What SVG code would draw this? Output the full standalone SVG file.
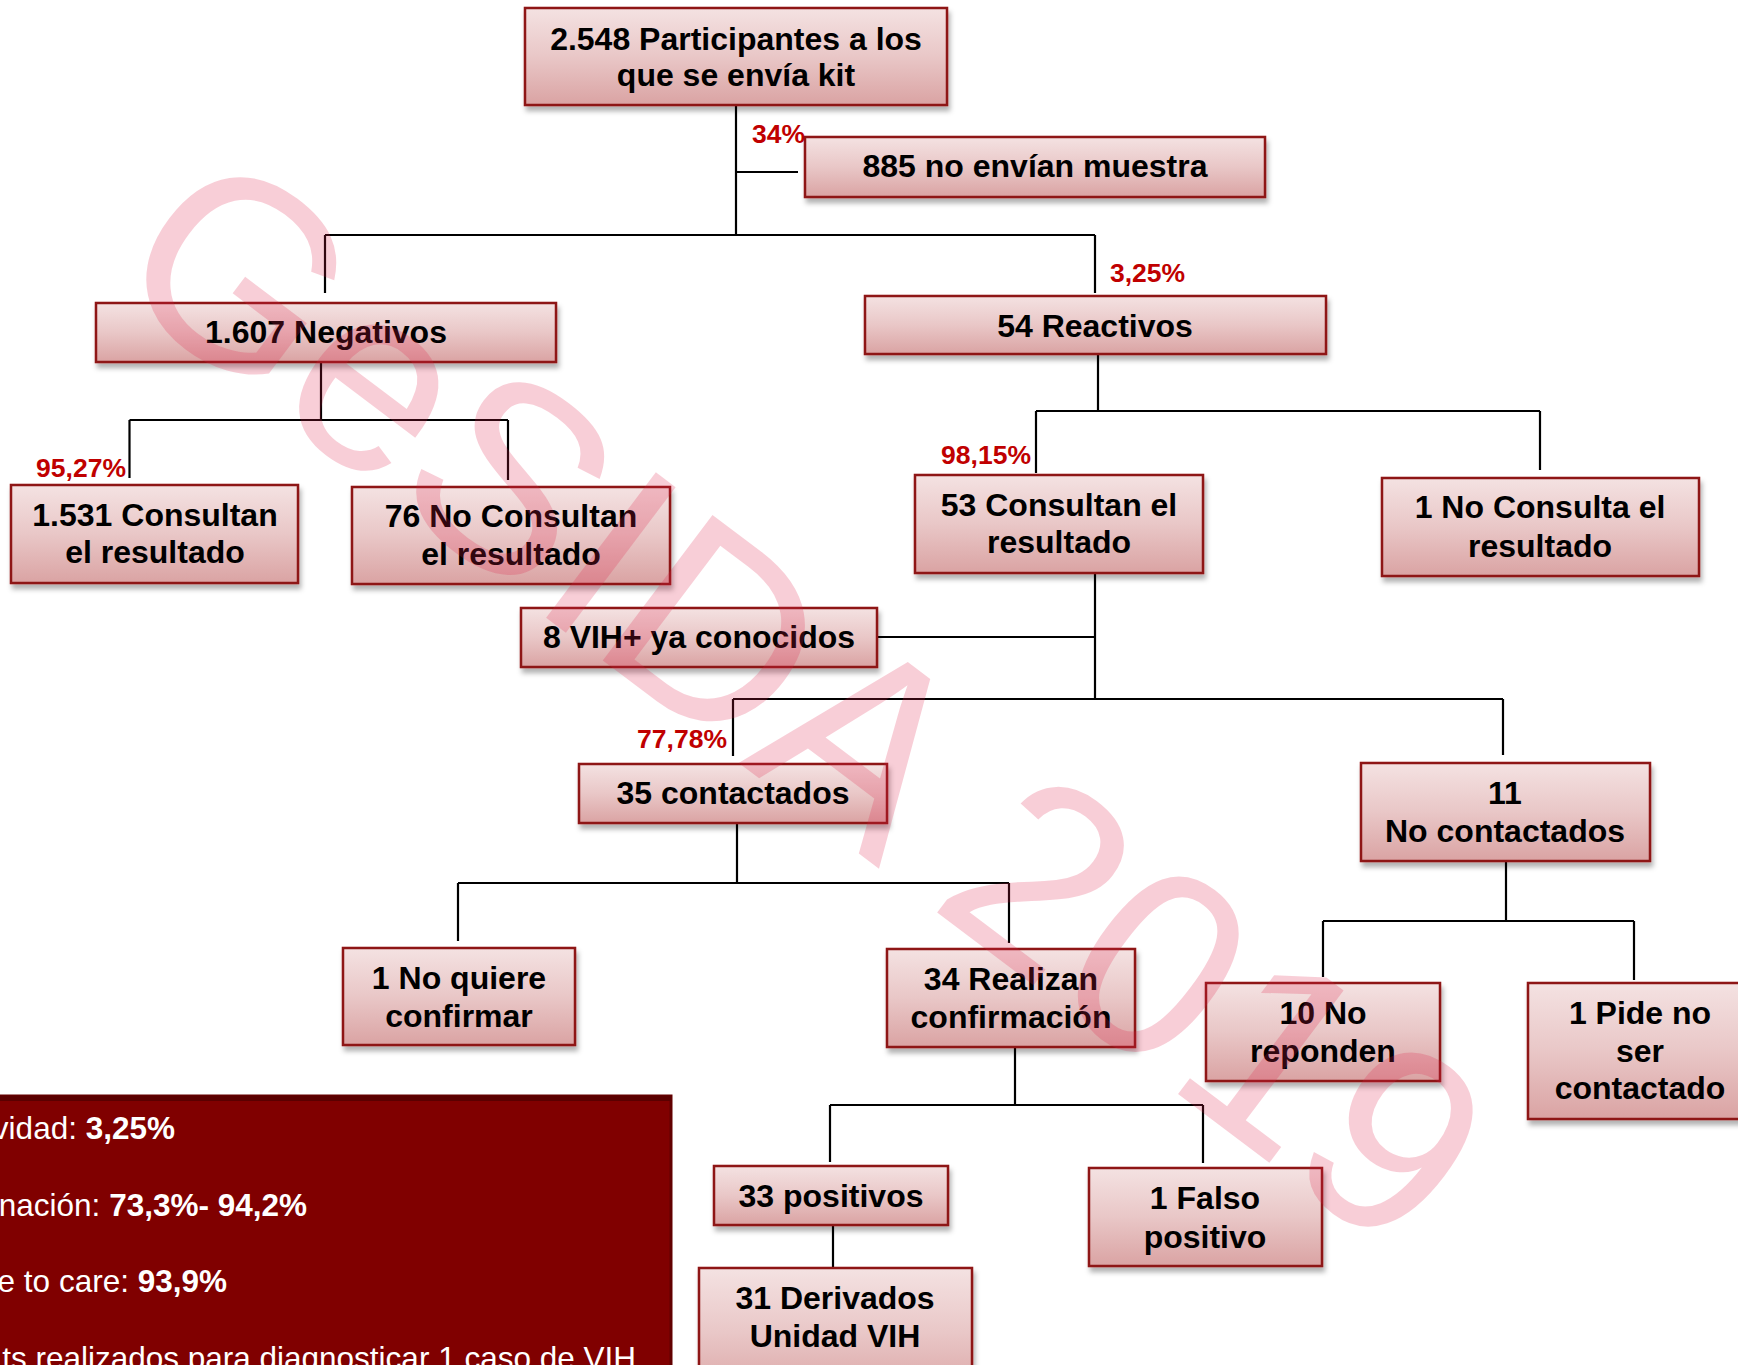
<svg xmlns="http://www.w3.org/2000/svg" width="1738" height="1365" viewBox="0 0 1738 1365">
<defs>
<linearGradient id="bg" x1="0" y1="0" x2="0" y2="1">
<stop offset="0" stop-color="#F4E2E2"/>
<stop offset="0.5" stop-color="#E9C7C7"/>
<stop offset="1" stop-color="#DAA3A3"/>
</linearGradient>
<filter id="sh" x="-10%" y="-20%" width="120%" height="150%">
<feDropShadow dx="2" dy="5" stdDeviation="2.5" flood-color="#000" flood-opacity="0.3"/>
</filter>
<style>
.box{fill:url(#bg);stroke:#8E1515;stroke-width:2.5;filter:url(#sh)}
.t{font-family:"Liberation Sans",Arial,sans-serif;font-weight:bold;font-size:32px;fill:#000;text-anchor:middle}
.p{font-family:"Liberation Sans",Arial,sans-serif;font-weight:bold;font-size:26.5px;fill:#C00000}
.c{stroke:#000;stroke-width:2.2;fill:none}
.w{font-family:"Liberation Sans",Arial,sans-serif;font-size:31.5px;fill:#fff;text-anchor:end}
</style>
</defs>
<rect width="1738" height="1365" fill="#fff"/>

<g id="connectors">
<path class="c" d="M736 105V235M736 172H798M325 235H1095M325 235V293M1095 235V293"/>
<path class="c" d="M321 362V420M129.5 420H508M129.5 420V478M508 420V480"/>
<path class="c" d="M1098 354V411M1036 411H1540M1036 411V473M1540 411V470"/>
<path class="c" d="M1095 573V699M877 637H1095M733 699H1503M733 699V756M1503 699V755"/>
<path class="c" d="M737 823V883M458 883H1009M458 883V941M1009 883V943"/>
<path class="c" d="M1506 861V921M1323 921H1634M1323 921V977M1634 921V980"/>
<path class="c" d="M1015 1047V1105M830 1105H1203M830 1105V1162M1203 1105V1163M833 1225V1268"/>
</g>

<g id="labels">
<text class="p" x="752" y="143">34%</text>
<text class="p" x="1110" y="282">3,25%</text>
<text class="p" x="126" y="477" text-anchor="end">95,27%</text>
<text class="p" x="1031" y="464" text-anchor="end">98,15%</text>
<text class="p" x="727" y="748" text-anchor="end">77,78%</text>
</g>

<g id="n-top"><rect class="box" x="525" y="8" width="422" height="97"/>
<text class="t" x="736" y="50">2.548 Participantes a los</text><text class="t" x="736" y="86">que se envía kit</text></g>
<g id="n-885"><rect class="box" x="805" y="137" width="460" height="60"/>
<text class="t" x="1035" y="177">885 no envían muestra</text></g>
<g id="n-neg"><rect class="box" x="96" y="303" width="460" height="59"/>
<text class="t" x="326" y="343">1.607 Negativos</text></g>
<g id="n-1531"><rect class="box" x="11" y="485" width="287" height="98"/>
<text class="t" x="155" y="526">1.531 Consultan</text><text class="t" x="155" y="563">el resultado</text></g>
<g id="n-76"><rect class="box" x="352" y="487" width="318" height="97"/>
<text class="t" x="511" y="527">76 No Consultan</text><text class="t" x="511" y="565">el resultado</text></g>
<g id="n-react"><rect class="box" x="865" y="296" width="461" height="58"/>
<text class="t" x="1095" y="337">54 Reactivos</text></g>
<g id="n-53"><rect class="box" x="915" y="475" width="288" height="98"/>
<text class="t" x="1059" y="516">53 Consultan el</text><text class="t" x="1059" y="553">resultado</text></g>
<g id="n-1nc"><rect class="box" x="1382" y="478" width="317" height="98"/>
<text class="t" x="1540" y="518">1 No Consulta el</text><text class="t" x="1540" y="557">resultado</text></g>
<g id="n-vih"><rect class="box" x="521" y="608" width="356" height="59"/>
<text class="t" x="699" y="648">8 VIH+ ya conocidos</text></g>
<g id="n-35"><rect class="box" x="579" y="764" width="308" height="59"/>
<text class="t" x="733" y="804">35 contactados</text></g>
<g id="n-11"><rect class="box" x="1361" y="763" width="289" height="98"/>
<text class="t" x="1505" y="804">11</text><text class="t" x="1505" y="842">No contactados</text></g>
<g id="n-nq"><rect class="box" x="343" y="948" width="232" height="97"/>
<text class="t" x="459" y="989">1 No quiere</text><text class="t" x="459" y="1027">confirmar</text></g>
<g id="n-34"><rect class="box" x="887" y="949" width="248" height="98"/>
<text class="t" x="1011" y="990">34 Realizan</text><text class="t" x="1011" y="1028">confirmación</text></g>
<g id="n-10"><rect class="box" x="1206" y="983" width="234" height="98"/>
<text class="t" x="1323" y="1024">10 No</text><text class="t" x="1323" y="1062">reponden</text></g>
<g id="n-pide"><rect class="box" x="1528" y="983" width="222" height="136"/>
<text class="t" x="1640" y="1024">1 Pide no</text><text class="t" x="1640" y="1062">ser</text><text class="t" x="1640" y="1099">contactado</text></g>
<g id="n-33"><rect class="box" x="714" y="1166" width="234" height="59"/>
<text class="t" x="831" y="1207">33 positivos</text></g>
<g id="n-31"><rect class="box" x="699" y="1268" width="273" height="130"/>
<text class="t" x="835" y="1309">31 Derivados</text><text class="t" x="835" y="1347">Unidad VIH</text></g>
<g id="n-falso"><rect class="box" x="1089" y="1168" width="233" height="98"/>
<text class="t" x="1205" y="1209">1 Falso</text><text class="t" x="1205" y="1248">positivo</text></g>

<g id="summary">
<rect x="-20" y="1096" width="691" height="300" fill="#800000" stroke="#620000" stroke-width="3"/>
<rect x="-20" y="1096" width="691" height="5" fill="#5A0000"/>
<text class="w" x="175" y="1139">vidad: <tspan font-weight="bold">3,25%</tspan></text>
<text class="w" x="307" y="1216">nación: <tspan font-weight="bold">73,3%- 94,2%</tspan></text>
<text class="w" x="227" y="1292">e to care: <tspan font-weight="bold">93,9%</tspan></text>
<text class="w" x="636" y="1369">ts realizados para diagnosticar 1 caso de VIH</text>
</g>

<g id="watermark" transform="translate(808 695) rotate(37)">
<text x="0" y="96" font-family="'Liberation Sans',Arial,sans-serif" font-size="265" text-anchor="middle" fill="#E0204A" fill-opacity="0.22">GeSIDA 2019</text>
</g>
</svg>
